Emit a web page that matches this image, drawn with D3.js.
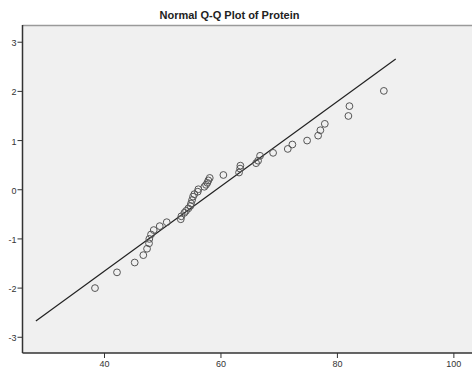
<!DOCTYPE html>
<html>
<head>
<meta charset="utf-8">
<script src="https://cdn.jsdelivr.net/npm/d3@7"></script>
<style>
  body { margin: 0; background: #fff; }
  text { font-family: "Liberation Sans", Arial, sans-serif; }
</style>
</head>
<body>
<svg id="chart"></svg>
<script>
// observed protein values (x) and expected normal values (y)
var observed = [38.45, 42.23, 45.27, 46.75, 47.39, 47.73, 47.78, 48.07, 48.54, 49.57,
  50.77, 53.18, 53.28, 53.80, 54.09, 54.48, 54.83, 54.95, 55.12, 55.29,
  55.51, 56.10, 56.20, 57.23, 57.52, 57.75, 57.92, 58.16, 60.50, 63.19,
  63.37, 63.42, 66.12, 66.46, 66.80, 69.04, 71.56, 72.35, 74.88, 76.77,
  77.16, 77.92, 81.97, 82.15, 88.06];
var expected = [-2.01, -1.69, -1.49, -1.34, -1.21, -1.10, -1.01, -0.92, -0.83, -0.75,
  -0.67, -0.61, -0.55, -0.48, -0.44, -0.39, -0.34, -0.29, -0.22, -0.15,
  -0.10, -0.05, 0.00, 0.05, 0.09, 0.13, 0.18, 0.23, 0.29, 0.34,
  0.42, 0.48, 0.53, 0.58, 0.68, 0.74, 0.82, 0.91, 0.99, 1.09,
  1.20, 1.33, 1.49, 1.69, 2.00];

// reference line end points
var lineX = [28.3, 90.1];
var lineY = [-2.68, 2.65];

var xTicks = [40, 60, 80, 100];
var yTicks = [-3, -2, -1, 0, 1, 2, 3];

var width = 472, height = 369;
var margin = { top: 25, right: 0, bottom: 16, left: 22.5 };

var svg = d3.select('#chart')
  .attr("width", width)
  .attr("height", height);

var x = d3.scaleLinear().domain([26, 103.2]).range([margin.left, width - margin.right]);
var y = d3.scaleLinear().domain([-3.33, 3.34]).range([height - margin.bottom, margin.top]);

// plot background
svg.append("rect")
  .attr("x", margin.left)
  .attr("y", margin.top)
  .attr("width", width - margin.left - margin.right)
  .attr("height", height - margin.top - margin.bottom)
  .attr("fill", "#f0f0f0");

// top frame line
svg.append("line")
  .attr("x1", margin.left).attr("x2", width)
  .attr("y1", margin.top + 0.5).attr("y2", margin.top + 0.5)
  .attr("stroke", "#9a9a9a").attr("stroke-width", 1.5);

// title
svg.append("text")
  .attr("x", 229.5)
  .attr("y", 19)
  .attr("text-anchor", "middle")
  .attr("font-size", "11px")
  .attr("font-weight", "bold")
  .attr("fill", "#222")
  .text("Normal Q-Q Plot of Protein");

// axes (plain hyphen for negatives, like the original)
var fmt = function (d) { return String(d); };
var xAxis = d3.axisBottom(x).tickValues(xTicks).tickFormat(fmt).tickSize(5).tickSizeOuter(0);
var yAxis = d3.axisLeft(y).tickValues(yTicks).tickFormat(fmt).tickSize(5).tickSizeOuter(0);

var gx = svg.append("g")
  .attr("transform", "translate(0," + (height - margin.bottom) + ")")
  .call(xAxis);
gx.select(".domain").remove();
gx.append("line")
  .attr("x1", margin.left).attr("x2", width)
  .attr("stroke", "#333").attr("stroke-width", 1.5);

var gy = svg.append("g")
  .attr("transform", "translate(" + margin.left + ",0)")
  .call(yAxis);
gy.select(".domain").remove();
gy.append("line")
  .attr("y1", margin.top).attr("y2", height - margin.bottom)
  .attr("stroke", "#333").attr("stroke-width", 1.5);

svg.selectAll(".tick line").attr("stroke", "#333");
svg.selectAll(".tick text")
  .attr("font-family", "'Liberation Sans', Arial, sans-serif")
  .attr("font-size", "9px")
  .attr("fill", "#333");
gx.selectAll(".tick text").attr("dy", "0.9em").attr("y", 6);
gy.selectAll(".tick text").attr("x", -6).attr("dy", "0.45em");

// reference line
svg.append("line")
  .attr("x1", x(lineX[0])).attr("y1", y(lineY[0]))
  .attr("x2", x(lineX[1])).attr("y2", y(lineY[1]))
  .attr("stroke", "#222")
  .attr("stroke-width", 1.2);

// points
svg.selectAll(".dot")
  .data(observed)
  .enter()
  .append("circle")
  .attr("class", "dot")
  .attr("cx", function (d) { return x(d); })
  .attr("cy", function (d, i) { return y(expected[i]); })
  .attr("r", 3.4)
  .attr("fill", "none")
  .attr("stroke", "#555")
  .attr("stroke-width", 1);
</script>
</body>
</html>
